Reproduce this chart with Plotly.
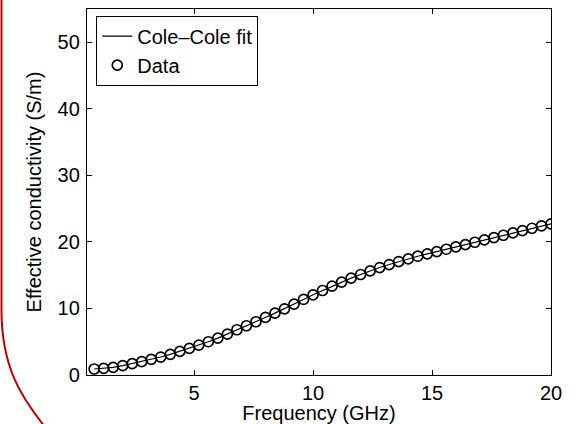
import plotly.graph_objects as go

# ---- data ----
freq_ghz = [0.8, 1.2, 1.6, 2.0, 2.4, 2.8, 3.2, 3.6, 4.0, 4.4, 4.8, 5.2, 5.6, 6.0, 6.4,
            6.8, 7.2, 7.6, 8.0, 8.4, 8.8, 9.2, 9.6, 10.0, 10.4, 10.8, 11.2, 11.6, 12.0,
            12.4, 12.8, 13.2, 13.6, 14.0, 14.4, 14.8, 15.2, 15.6, 16.0, 16.4, 16.8,
            17.2, 17.6, 18.0, 18.4, 18.8, 19.2, 19.6, 20.0]
sigma_data = [0.9, 1.0, 1.15, 1.4, 1.7, 2.0, 2.35, 2.7, 3.1, 3.55, 4.0, 4.5, 5.0,
              5.55, 6.15, 6.8, 7.4, 8.0, 8.65, 9.3, 9.95, 10.65, 11.35, 12.05, 12.7,
              13.35, 13.95, 14.55, 15.1, 15.65, 16.15, 16.6, 17.05, 17.45, 17.85, 18.2,
              18.55, 18.9, 19.25, 19.6, 19.95, 20.3, 20.65, 21.0, 21.35, 21.7, 22.05,
              22.4, 22.7]
fit_freq = freq_ghz
fit_sigma = sigma_data

x_ticks = [5, 10, 15, 20]
y_ticks = [0, 10, 20, 30, 40, 50]
x_title = "Frequency (GHz)"
y_title = "Effective conductivity (S/m)"
legend_names = ["Cole\u2013Cole fit", "Data"]

FONT = "Liberation Sans, Arial, Helvetica, sans-serif"
W, H = 579, 424
ML, MR, MT, MB = 87, 28, 9, 49

fig = go.Figure()
fig.add_trace(go.Scatter(x=fit_freq, y=fit_sigma, mode="lines", name=legend_names[0],
                         line=dict(color="black", width=1.2)))
fig.add_trace(go.Scatter(x=freq_ghz, y=sigma_data, mode="markers", name=legend_names[1],
                         marker=dict(symbol="circle-open", size=10, color="black",
                                     line=dict(color="black", width=1.7))))

axis_common = dict(showline=True, linecolor="black", linewidth=1.3, mirror="ticks",
                   ticks="inside", ticklen=5, tickwidth=1, tickcolor="black",
                   showgrid=False, zeroline=False,
                   tickfont=dict(family=FONT, size=20, color="black"))

fig.update_xaxes(range=[0.5, 20], tickvals=x_ticks, ticktext=[str(v) for v in x_ticks],
                 title=dict(text=x_title, font=dict(family=FONT, size=20, color="black"), standoff=6),
                 **axis_common)
fig.update_yaxes(range=[0, 55], tickvals=y_ticks, ticktext=[str(v) for v in y_ticks],
                 ticklabelstandoff=2,
                 title=dict(text=y_title, font=dict(family=FONT, size=20, color="black"), standoff=10),
                 **axis_common)

# decorative red border curve (pixel coords converted to paper coords)
pw, ph = W - ML - MR, H - MT - MB
def px(xp, yp):
    return (xp - ML) / pw, (H - MB - yp) / ph

pts = [(1.5, -2), (1.5, 310), (1.5, 368), (22, 398), (45, 427)]
cp = [px(*p) for p in pts]
path = "M {:.4f},{:.4f} L {:.4f},{:.4f} C {:.4f},{:.4f} {:.4f},{:.4f} {:.4f},{:.4f}".format(
    cp[0][0], cp[0][1], cp[1][0], cp[1][1], cp[2][0], cp[2][1], cp[3][0], cp[3][1], cp[4][0], cp[4][1])
fig.add_shape(type="path", path=path, xref="paper", yref="paper",
              line=dict(color="#c00000", width=2), layer="above")

fig.update_layout(
    width=W, height=H,
    margin=dict(l=ML, r=MR, t=MT, b=MB, autoexpand=False),
    paper_bgcolor="white", plot_bgcolor="white",
    font=dict(family=FONT, size=20, color="black"),
    showlegend=True,
    legend=dict(x=0.02, y=0.982, xanchor="left", yanchor="top",
                bordercolor="black", borderwidth=1, bgcolor="white",
                font=dict(family=FONT, size=20, color="black"),
                tracegroupgap=0, itemwidth=30),
)

fig.write_html("out.html")
